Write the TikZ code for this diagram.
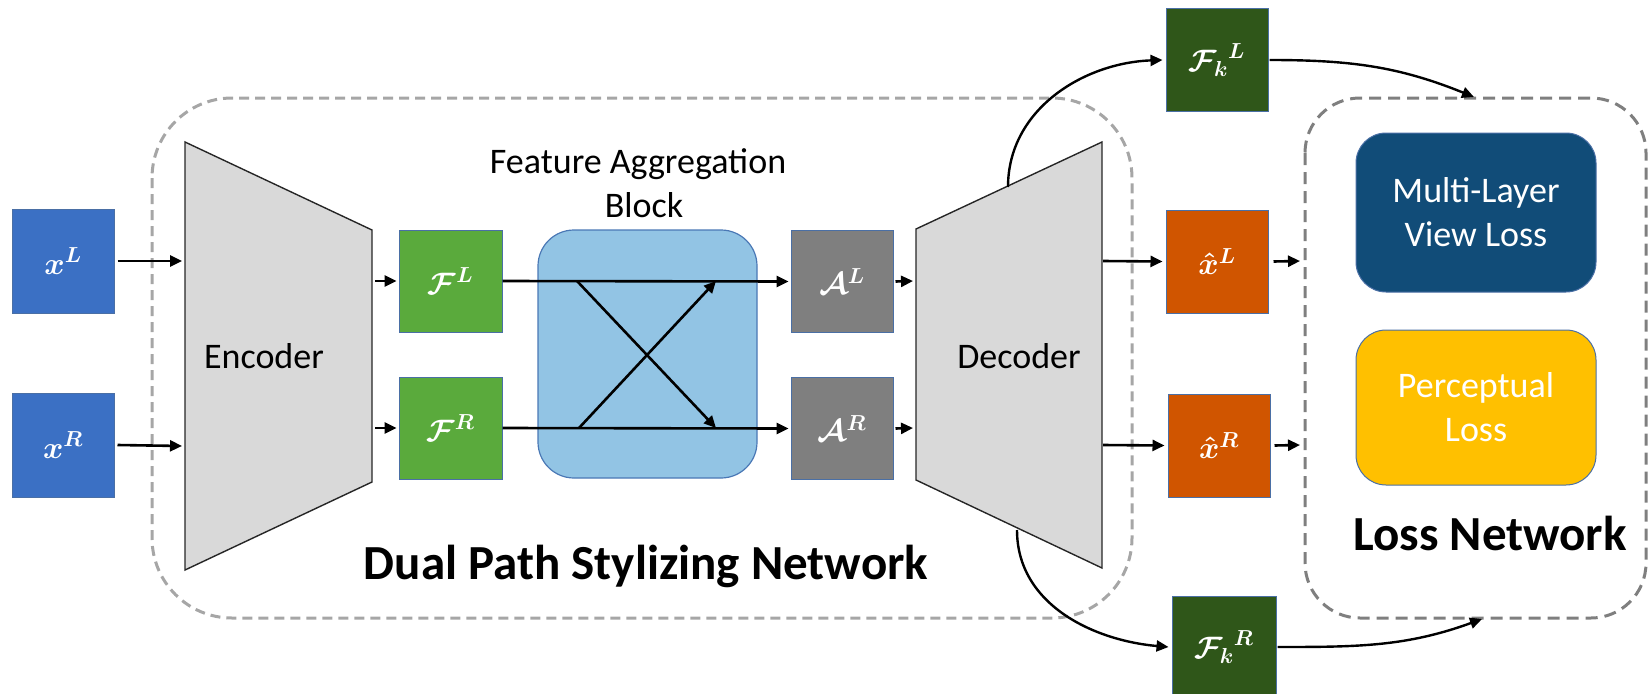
\RequirePackage{fix-cm}
\documentclass[tikz,border=0pt]{standalone}
\usepackage{fontspec}
\setmainfont{Carlito}
\usetikzlibrary{arrows.meta}

\definecolor{inblue}{HTML}{3B70C4}
\definecolor{featgreen}{HTML}{5AAA3C}
\definecolor{fabblue}{HTML}{92C4E4}
\definecolor{fabedge}{HTML}{4A78B5}
\definecolor{aggray}{HTML}{7F7F7F}
\definecolor{codergray}{HTML}{D9D9D9}
\definecolor{outorange}{HTML}{D05500}
\definecolor{deepgreen}{HTML}{2F5619}
\definecolor{mlblue}{HTML}{114C78}
\definecolor{pyellow}{HTML}{FFC000}
\definecolor{boxedge}{HTML}{4A6FA5}
\definecolor{dashlight}{HTML}{A6A6A6}
\definecolor{dashdark}{HTML}{7F7F7F}

\begin{document}
\begin{tikzpicture}[x=1pt,y=1pt,
  sq/.style={draw=boxedge, line width=1pt, inner sep=0pt, text=white,
    minimum width=102pt, minimum height=102pt,
    font=\fontsize{31}{36}\selectfont\boldmath},
  arr/.style={line width=2.6pt, -{Triangle[length=12pt,width=11pt]}},
  curvearr/.style={line width=2.4pt, -{Triangle[length=12pt,width=11pt]}},
  coder/.style={draw=black!85, line width=1.4pt, fill=codergray, line join=miter},
  lossbox/.style={draw=boxedge, line width=1pt, rounded corners=30pt,
    minimum width=240pt, inner sep=0pt, text=white, align=center,
    font=\fontsize{36}{44}\selectfont},
  plain/.style={font=\fontsize{36}{44}\selectfont, inner sep=0pt},
  heading/.style={font=\fontsize{49}{58}\selectfont\bfseries, inner sep=0pt}]

\useasboundingbox (0,0) rectangle (1648,-693);
\clip (0,0) rectangle (1648,-693);

% dashed group frames
\draw[dashlight, line width=3pt, dash pattern=on 10pt off 6pt, rounded corners=80pt]
  (152,-98) rectangle (1132,-618);
\draw[dashdark, line width=3pt, dash pattern=on 12pt off 7pt, rounded corners=55pt]
  (1305,-98) rectangle (1646,-618);

% encoder and decoder
\draw[coder] (185,-142) -- (372,-230) -- (372,-482) -- (185,-570) -- cycle;
\draw[coder] (916,-229) -- (1102,-142) -- (1102,-568) -- (916,-480) -- cycle;
\node[plain, anchor=base] (enctext) at (264,-368) {Encoder};
\node[plain, anchor=base] (dectext) at (1019,-368) {Decoder};

% ports on the encoder and decoder
\coordinate (encinL) at (182,-261);
\coordinate (encinR) at (182,-446);
\coordinate (encoutL) at (375,-281);
\coordinate (encoutR) at (375,-428);
\coordinate (decinL) at (913,-281);
\coordinate (decinR) at (913,-428);
\coordinate (decoutL) at (1103,-261);
\coordinate (decoutR) at (1103,-445);
\coordinate (dectop) at (1008,-187);
\coordinate (decbot) at (1017,-530);

% inputs
\node[sq, fill=inblue, minimum height=104pt] (xl) at (63,-261) {$x^L$};
\node[sq, fill=inblue, minimum height=104pt] (xr) at (63,-445) {$x^R$};

% encoded features
\node[sq, fill=featgreen, minimum width=103pt] (fl) at (450.5,-281) {$\mathcal{F}^L$};
\node[sq, fill=featgreen, minimum width=103pt] (fr) at (450.5,-428) {$\mathcal{F}^R$};

% feature aggregation block
\node[draw=fabedge, line width=1.2pt, fill=fabblue, rounded corners=36pt,
  minimum width=219pt, minimum height=248pt, inner sep=0pt] (fab) at (647.5,-354) {};
\node[plain, anchor=base] (fabtitle) at (638,-173) {Feature Aggregation};
\node[plain, anchor=base] (fabtitleb) at (644,-217) {Block};

% aggregated features
\node[sq, fill=aggray] (al) at (842,-281.5) {$\mathcal{A}^L$};
\node[sq, fill=aggray] (ar) at (842,-428.5) {$\mathcal{A}^R$};

% reconstructions and decoder features
\node[sq, fill=outorange, minimum height=103pt] (xhl) at (1217,-261.5) {$\hat{x}^L$};
\node[sq, fill=outorange, minimum height=103pt] (xhr) at (1219,-445.5) {$\hat{x}^R$};
\node[sq, fill=deepgreen] (fkl) at (1217,-60) {${\mathcal{F}_k}^L$};
\node[sq, fill=deepgreen, minimum width=104pt] (fkr) at (1224,-647) {${\mathcal{F}_k}^R$};

% loss network
\node[lossbox, fill=mlblue, minimum height=159pt] (mlloss) at (1476,-212.5) {Multi-Layer\\View Loss};
\node[lossbox, fill=pyellow, minimum height=155pt] (ploss) at (1476,-407.5) {Perceptual\\Loss};
\node[heading, anchor=base] (losstitle) at (1490,-550) {Loss Network};
\node[heading, anchor=base] (dualtitle) at (646,-579) {Dual Path Stylizing Network};

\coordinate (lossinL) at (1300,-261);
\coordinate (lossinR) at (1300,-445);
\coordinate (losstop) at (1474,-97);
\coordinate (lossbot) at (1482,-619);

% crossing inside the aggregation block
\coordinate (crossTL) at (577,-281);
\coordinate (crossBL) at (579,-428);
\coordinate (crossTR) at (716,-281);
\coordinate (crossBR) at (716,-428);

% connectors
\draw[arr] ([xshift=3pt]xl.east) -- (encinL);
\draw[arr] ([xshift=3pt]xr.east) -- (encinR);
\draw[arr] (encoutL) -- ([xshift=-2pt]fl.west);
\draw[arr] (encoutR) -- ([xshift=-2pt]fr.west);
\draw[arr] (fl.east) -- ([xshift=-2pt]al.west);
\draw[arr] (fr.east) -- ([xshift=-2pt]ar.west);
\draw[arr] (crossTL) -- (crossBR);
\draw[arr] (crossBL) -- (crossTR);
\draw[arr] ([xshift=2pt]al.east) -- (decinL);
\draw[arr] ([xshift=2pt]ar.east) -- (decinR);
\draw[arr] (decoutL) -- ([xshift=-3pt]xhl.west);
\draw[arr] (decoutR) -- ([xshift=-3pt]xhr.west);
\draw[arr] ([xshift=5pt]xhl.east) -- (lossinL);
\draw[arr] ([xshift=4pt]xhr.east) -- (lossinR);
\draw[curvearr] (dectop) to[out=90, in=182] ([xshift=-3pt]fkl.west);
\draw[curvearr] (decbot) to[out=-90, in=175] ([xshift=-3pt]fkr.west);
\draw[curvearr] ([xshift=1pt]fkl.east) to[out=0, in=158] (losstop);
\draw[curvearr] ([xshift=1pt]fkr.east) to[out=0, in=200] (lossbot);

\end{tikzpicture}
\end{document}
